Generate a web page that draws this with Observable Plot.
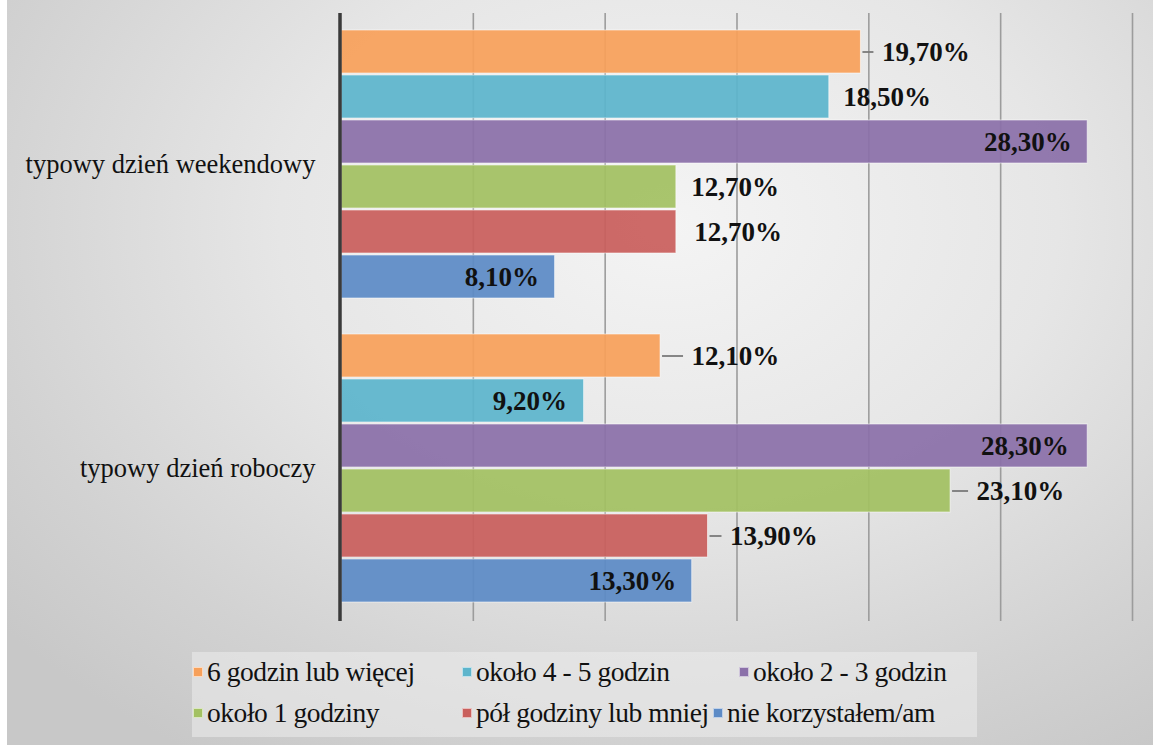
<!DOCTYPE html>
<html>
<head>
<meta charset="utf-8">
<script src="https://cdn.jsdelivr.net/npm/d3@7"></script>
<script src="https://cdn.jsdelivr.net/npm/@observablehq/plot@0.6"></script>
<style>
  html, body { margin: 0; padding: 0; }
  body { width: 1153px; height: 745px; overflow: hidden; font-family: 'Liberation Serif', serif; }
  #wrap {
    position: relative; width: 1153px; height: 745px;
    background: radial-gradient(ellipse 75% 85% at 58% 30%, #f4f4f4 0%, #e6e6e6 45%, #d2d2d2 80%, #c8c8c8 100%);
  }
  #strip { position: absolute; left: 0; top: 0; width: 7px; height: 745px; background: #ffffff; }
  #chart { position: absolute; left: 0; top: 0; }
  #chart svg text { font-family: 'Liberation Serif', serif !important; }
  #legend {
    position: absolute; left: 192px; top: 652px; width: 785px; height: 85px;
    background: rgba(236,236,236,0.55);
    font-family: 'Liberation Serif', serif;
  }
  .item { position: absolute; display: flex; align-items: center; font-family: 'Liberation Serif', serif; font-size: 27.5px; line-height: 30px; color: #111; white-space: nowrap; letter-spacing: -0.45px; }
  .sw { width: 8px; height: 8px; margin-right: 4px; border: 1px solid rgba(255,255,255,0.6); }
</style>
</head>
<body>
<div id="wrap">
  <div id="strip"></div>
  <div id="chart"></div>
  <div id="legend"></div>
</div>
<script>
// ---- data ----
const categories = ["typowy dzień weekendowy", "typowy dzień roboczy"];
const series = ["6 godzin lub więcej", "około 4 - 5 godzin", "około 2 - 3 godzin", "około 1 godziny", "pół godziny lub mniej", "nie korzystałem/am"];
const weekendValues = [19.7, 18.5, 28.3, 12.7, 12.7, 8.1];
const workdayValues = [12.1, 9.2, 28.3, 23.1, 13.9, 13.3];
const gridTicks = [5, 10, 15, 20, 25, 30];
const seriesColors = ["#f7a05a", "#5db5cc", "#8b70a9", "#a3c162", "#c95f5c", "#5d8bc6"];

// ---- label placement (style) ----
// positive: text starts dx px right of bar end; negative: text ends |dx| px inside bar
const labelDx = [[21, 14, -16, 15, 18, -16], [31, -17, -19, 26, 22, -16]];
const hasLeader = [[true, false, false, false, false, false], [true, false, false, true, true, false]];

const W = 1153, H = 640, ML = 341, MR = 21;
const pxPerUnit = (W - ML - MR) / 30;

const rows = [];
categories.forEach((c, ci) => {
  const vals = ci === 0 ? weekendValues : workdayValues;
  series.forEach((s, si) => {
    const dx = labelDx[ci][si];
    rows.push({
      category: c, series: s, value: vals[si],
      label: vals[si].toFixed(2).replace(".", ",") + "%",
      dx, inside: dx < 0,
      leader: hasLeader[ci][si],
      lx1: vals[si] + 2 / pxPerUnit,
      lx2: vals[si] + (dx - 8) / pxPerUnit
    });
  });
});

const labelMarks = rows.map(r => Plot.text(rows, {
  filter: d => d === r, y: "series", x: "value", text: "label",
  dx: r.dx, dy: 0, textAnchor: r.inside ? "end" : "start",
  fontSize: 27, fontWeight: "bold", fill: "#111"
}));

const chart = Plot.plot({
  width: W, height: H,
  marginLeft: ML, marginRight: MR, marginTop: 14, marginBottom: 20,
  style: { background: "transparent", fontSize: "26.5px", color: "#111" },
  facet: { data: rows, y: "category" },
  fy: { domain: categories, paddingInner: 0.1016, paddingOuter: 0.0444, axis: "left", label: null, tickSize: 0, tickPadding: 26 },
  y: { domain: series, paddingInner: 0.035, paddingOuter: 0, axis: null },
  x: { domain: [0, 30], axis: null },
  color: { domain: series, range: seriesColors },
  marks: [
    Plot.ruleX(gridTicks, { stroke: "#9c9c9c", strokeWidth: 1.6, insetTop: -15, insetBottom: -16 }),
    Plot.barX(rows, { y: "series", x: "value", fill: "series", fillOpacity: 0.93, stroke: "#ffffff", strokeOpacity: 0.55, strokeWidth: 1 }),
    Plot.ruleY(rows, { filter: d => d.leader, y: "series", x1: "lx1", x2: "lx2", stroke: "#7a7a7a", strokeWidth: 1.8 }),
    ...labelMarks,
    Plot.ruleX([0], { stroke: "#3a3a3a", strokeWidth: 3.5, insetTop: -15, insetBottom: -16, dx: -1.5 })
  ]
});
document.getElementById("chart").appendChild(chart);

// ---- legend (HTML, below the SVG) ----
const legendPos = [[1, 5], [270, 5], [547, 5], [1, 46], [270, 46], [521, 46]];
const legend = document.getElementById("legend");
series.forEach((s, i) => {
  const item = document.createElement("div");
  item.className = "item";
  item.style.left = legendPos[i][0] + "px";
  item.style.top = legendPos[i][1] + "px";
  const sw = document.createElement("span");
  sw.className = "sw";
  sw.style.background = seriesColors[i];
  const t = document.createElement("span");
  t.textContent = s;
  item.appendChild(sw);
  item.appendChild(t);
  legend.appendChild(item);
});
</script>
</body>
</html>
